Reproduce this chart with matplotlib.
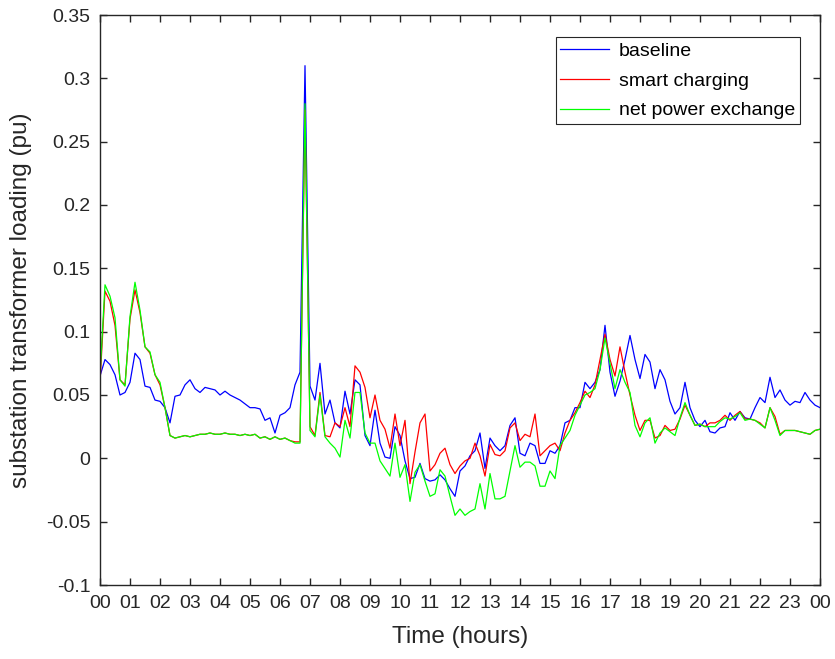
import numpy as np
import matplotlib
matplotlib.use("Agg")
import matplotlib.pyplot as plt

plt.rcParams['font.family'] = ['Liberation Sans', 'DejaVu Sans']

# 10-minute samples over one day (145 points, 00:00 .. 24:00)
baseline = [
    0.065, 0.078, 0.074, 0.066, 0.050, 0.052, 0.060, 0.083, 0.078, 0.057,
    0.056, 0.046, 0.045, 0.040, 0.028, 0.049, 0.050, 0.058, 0.062, 0.055,
    0.052, 0.056, 0.055, 0.054, 0.050, 0.053, 0.050, 0.048, 0.046, 0.043,
    0.040, 0.040, 0.039, 0.030, 0.032, 0.020, 0.034, 0.036, 0.040, 0.058,
    0.068, 0.310, 0.057, 0.046, 0.075, 0.035, 0.046, 0.028, 0.024, 0.053,
    0.035, 0.062, 0.058, 0.018, 0.010, 0.038, 0.012, 0.001, 0.000, 0.025,
    0.018, -0.002, -0.016, -0.015, -0.004, -0.016, -0.018, -0.017, -0.013, -0.017,
    -0.024, -0.030, -0.010, -0.006, 0.002, 0.006, 0.020, -0.008, 0.016, 0.010,
    0.006, 0.010, 0.026, 0.032, 0.004, 0.002, 0.012, 0.010, -0.004, -0.004,
    0.006, 0.004, 0.010, 0.028, 0.030, 0.040, 0.040, 0.060, 0.055, 0.060,
    0.070, 0.105, 0.068, 0.049, 0.061, 0.078, 0.097, 0.078, 0.063, 0.082,
    0.076, 0.055, 0.070, 0.062, 0.045, 0.035, 0.040, 0.060, 0.040, 0.030,
    0.025, 0.030, 0.021, 0.020, 0.024, 0.025, 0.036, 0.030, 0.037, 0.032,
    0.031, 0.040, 0.048, 0.044, 0.064, 0.048, 0.054, 0.046, 0.042, 0.045,
    0.044, 0.052, 0.046, 0.042, 0.040,
]
smart_charging = [
    0.060, 0.132, 0.124, 0.105, 0.062, 0.058, 0.110, 0.133, 0.115, 0.088,
    0.083, 0.066, 0.058, 0.040, 0.018, 0.016, 0.017, 0.018, 0.017, 0.018,
    0.019, 0.019, 0.020, 0.019, 0.019, 0.020, 0.019, 0.019, 0.018, 0.019,
    0.018, 0.019, 0.016, 0.017, 0.015, 0.017, 0.015, 0.016, 0.014, 0.013,
    0.013, 0.275, 0.025, 0.018, 0.052, 0.018, 0.017, 0.028, 0.025, 0.040,
    0.025, 0.073, 0.068, 0.056, 0.032, 0.050, 0.030, 0.023, 0.008, 0.035,
    0.010, 0.030, -0.020, 0.005, 0.028, 0.035, -0.010, -0.005, 0.004, 0.008,
    -0.005, -0.012, -0.006, -0.002, 0.000, 0.012, 0.002, -0.014, 0.011, 0.003,
    0.002, 0.006, 0.024, 0.028, 0.014, 0.019, 0.017, 0.035, 0.002, 0.006,
    0.010, 0.012, 0.006, 0.020, 0.030, 0.036, 0.044, 0.053, 0.048, 0.058,
    0.078, 0.098, 0.078, 0.065, 0.088, 0.068, 0.050, 0.034, 0.022, 0.030,
    0.030, 0.016, 0.018, 0.026, 0.022, 0.023, 0.031, 0.042, 0.034, 0.026,
    0.027, 0.025, 0.028, 0.028, 0.030, 0.034, 0.030, 0.034, 0.037, 0.031,
    0.031, 0.030, 0.028, 0.024, 0.040, 0.033, 0.019, 0.022, 0.022, 0.022,
    0.021, 0.020, 0.019, 0.022, 0.023,
]
net_exchange = [
    0.065, 0.137, 0.128, 0.111, 0.062, 0.057, 0.112, 0.139, 0.117, 0.088,
    0.084, 0.066, 0.060, 0.040, 0.018, 0.016, 0.017, 0.018, 0.017, 0.018,
    0.019, 0.019, 0.020, 0.019, 0.019, 0.020, 0.019, 0.019, 0.018, 0.019,
    0.018, 0.019, 0.016, 0.017, 0.015, 0.017, 0.015, 0.016, 0.014, 0.012,
    0.012, 0.280, 0.022, 0.017, 0.050, 0.017, 0.012, 0.008, 0.001, 0.030,
    0.016, 0.052, 0.052, 0.020, 0.012, 0.012, -0.002, -0.008, -0.014, 0.012,
    -0.015, -0.005, -0.034, -0.011, -0.005, -0.018, -0.030, -0.028, -0.009, -0.014,
    -0.030, -0.045, -0.040, -0.045, -0.042, -0.040, -0.020, -0.040, -0.012, -0.032,
    -0.032, -0.030, -0.010, 0.010, -0.007, -0.003, -0.003, -0.006, -0.022, -0.022,
    -0.010, -0.016, 0.010, 0.016, 0.022, 0.034, 0.042, 0.050, 0.052, 0.055,
    0.070, 0.095, 0.075, 0.055, 0.070, 0.060, 0.052, 0.026, 0.017, 0.028,
    0.032, 0.012, 0.020, 0.024, 0.021, 0.018, 0.032, 0.044, 0.034, 0.026,
    0.027, 0.025, 0.025, 0.025, 0.029, 0.032, 0.031, 0.033, 0.036, 0.030,
    0.031, 0.030, 0.027, 0.024, 0.040, 0.030, 0.018, 0.022, 0.022, 0.022,
    0.021, 0.020, 0.019, 0.022, 0.023,
]
hour_labels = ['%02d' % h for h in range(24)] + ['00']

t = np.arange(len(baseline)) / 6.0

fig = plt.figure(figsize=(8.35, 6.59), dpi=100)
ax = fig.add_axes([100 / 835, 74 / 659, 720 / 835, 570 / 659])

ax.plot(t, baseline, color=(0, 0, 1), lw=0.9, label='baseline')
ax.plot(t, smart_charging, color=(1, 0, 0), lw=0.9, label='smart charging')
ax.plot(t, net_exchange, color=(0, 1, 0), lw=0.9, label='net power exchange')

ax.set_xlim(0, 24)
ax.set_ylim(-0.1, 0.35)
ax.set_xticks(np.arange(25))
ax.set_xticklabels(hour_labels)
ax.set_yticks(np.arange(-0.1, 0.351, 0.05))
ax.set_yticklabels(['-0.1', '-0.05', '0', '0.05', '0.1', '0.15', '0.2',
                    '0.25', '0.3', '0.35'])

dark = '#262626'
ax.tick_params(direction='in', length=5, width=1, colors=dark, labelsize=14,
               top=True, right=True, pad=7)
for s in ax.spines.values():
    s.set_color(dark)
    s.set_linewidth(1)

ax.set_xlabel('Time (hours)', fontsize=17.5, color=dark, labelpad=10)
ax.set_ylabel('substation transformer loading (pu)', fontsize=17.5, color=dark,
              labelpad=10)

leg = ax.legend(loc='upper right', bbox_to_anchor=(0.972, 0.961),
                borderaxespad=0, fontsize=14, fancybox=False, framealpha=1,
                edgecolor=dark, handlelength=2.5, handletextpad=0.5,
                labelspacing=0.63, borderpad=0.25)
leg.get_frame().set_linewidth(0.8)

fig.savefig('out.png', dpi=100)
